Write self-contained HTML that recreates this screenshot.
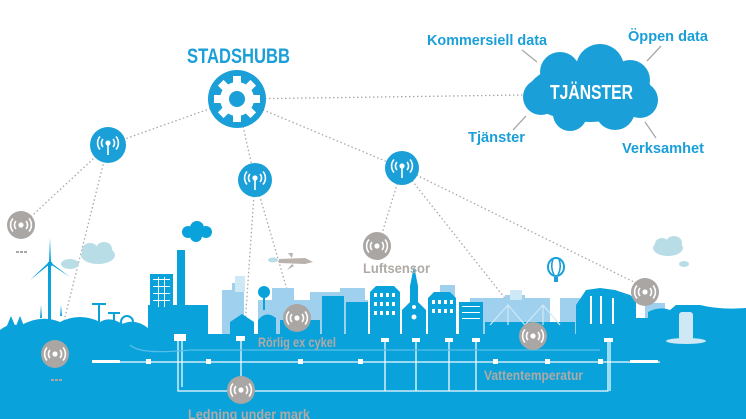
<!DOCTYPE html>
<html><head><meta charset="utf-8"><style>
html,body{margin:0;padding:0;background:#fff;}
svg{display:block;}
text{font-family:"Liberation Sans",sans-serif;font-weight:700;}
</style></head><body>
<svg width="746" height="419" viewBox="0 0 746 419" xmlns="http://www.w3.org/2000/svg">
<defs>
<g id="wave">
  <circle r="2.6" fill="#fff"/>
  <path d="M-5,-4 A6,6 0 0 0 -5,4 M5,-4 A6,6 0 0 1 5,4 M-8,-6.5 A10,10 0 0 0 -8,6.5 M8,-6.5 A10,10 0 0 1 8,6.5" stroke="#fff" stroke-width="1.6" fill="none"/>
</g>
<g id="hub">
  <use href="#wave" y="-2"/>
  <line x1="0" y1="-2" x2="0" y2="10" stroke="#fff" stroke-width="1.6"/>
</g>
</defs>

<g stroke="#a8a8a8" stroke-width="1.3" stroke-dasharray="1.5,2.5" fill="none">
  <line x1="237" y1="99" x2="523" y2="95"/>
  <line x1="237" y1="99" x2="108" y2="145"/>
  <line x1="237" y1="99" x2="255" y2="180"/>
  <line x1="237" y1="99" x2="402" y2="168"/>
  <line x1="108" y1="145" x2="22" y2="225"/>
  <line x1="108" y1="145" x2="58" y2="345"/>
  <line x1="255" y1="180" x2="244" y2="340"/>
  <line x1="255" y1="180" x2="293" y2="310"/>
  <line x1="402" y1="168" x2="380" y2="240"/>
  <line x1="402" y1="168" x2="530" y2="330"/>
  <line x1="402" y1="168" x2="640" y2="285"/>
</g>

<g fill="#b9dde6">
  <ellipse cx="98" cy="255" rx="17" ry="9"/><ellipse cx="90" cy="250" rx="8" ry="7"/><ellipse cx="104" cy="249" rx="8" ry="7"/>
  <ellipse cx="70" cy="264" rx="9" ry="5"/>
  <ellipse cx="668" cy="248" rx="15" ry="8"/><ellipse cx="662" cy="244" rx="7" ry="6"/><ellipse cx="674" cy="243" rx="8" ry="7"/>
  <ellipse cx="684" cy="264" rx="5" ry="3"/>
  <ellipse cx="273" cy="260" rx="5" ry="2.5"/>
</g>
<path d="M279,259 L305,258 L313,262 L305,264 L279,263 Z M292,258 L288,253 L293,253 Z M292,264 L287,270 L294,266 Z" fill="#b9b2ad"/>
<ellipse cx="556" cy="267" rx="8" ry="9" fill="#fff" stroke="#1a9fd8" stroke-width="2"/>
<path d="M553,259 Q550,267 554,275 M559,259 Q562,267 558,275" stroke="#1a9fd8" stroke-width="1.6" fill="none"/>
<rect x="554" y="277" width="4" height="5" fill="#1a9fd8"/>

<g fill="#9fd1ee">
  <rect x="222" y="290" width="20" height="45"/><rect x="232" y="283" width="12" height="52"/>
  <rect x="258" y="300" width="110" height="35"/><rect x="272" y="288" width="22" height="47"/>
  <rect x="310" y="292" width="30" height="43"/><rect x="340" y="288" width="25" height="47"/>
  <rect x="440" y="285" width="15" height="50"/>
  <rect x="470" y="298" width="80" height="37"/><rect x="505" y="295" width="20" height="40"/>
  <rect x="560" y="298" width="20" height="37"/><rect x="645" y="303" width="20" height="30"/>
</g>
<g fill="#cfe8f6"><rect x="235" y="276" width="10" height="16"/><rect x="510" y="290" width="12" height="10"/></g>

<g fill="#0aa2db">
  <path d="M0,330 Q10,322 20,326 Q40,314 60,322 Q80,312 100,322 Q110,316 122,324 Q135,318 148,328 L148,340 L0,340 Z"/>
  <path d="M6,328 L11,316 L16,328 Z M16,326 L20,316 L24,326 Z"/>
  <rect x="48" y="262" width="3" height="62"/>
  <path d="M49,262 L50,238 L51,262 Z M49,262 L30,280 L50,264 Z M50,262 L70,277 L50,264 Z"/>
  <circle cx="50" cy="264" r="2.5"/>
  <path d="M40,318 L41,305 L42,318 Z M60,316 L61,305 L62,316 Z"/>
  <rect x="98" y="304" width="2" height="28"/><rect x="92" y="303" width="14" height="2"/>
  <rect x="113" y="312" width="2" height="20"/><rect x="108" y="312" width="12" height="2"/>
  <circle cx="127" cy="322" r="6" fill="none" stroke="#0aa2db" stroke-width="2"/>
  <rect x="148" y="305" width="60" height="35"/>
  <rect x="150" y="274" width="23" height="40"/>
  <rect x="177" y="250" width="8" height="60"/>
  <circle cx="188" cy="232" r="6"/><circle cx="197" cy="228" r="7"/><circle cx="206" cy="232" r="6"/><circle cx="196" cy="236" r="6"/>
  <path d="M230,335 L230,322 L242,314 L254,322 L254,335 Z"/>
  <path d="M258,335 L258,320 Q266,310 276,318 L276,335 Z"/>
  <circle cx="264" cy="292" r="6"/><rect x="263" y="296" width="2" height="14"/>
  <rect x="280" y="320" width="40" height="15"/>
  <rect x="322" y="296" width="22" height="40"/>
  <rect x="346" y="302" width="22" height="34"/>
  <path d="M370,336 L370,292 L376,286 L394,286 L400,292 L400,336 Z"/>
  <path d="M402,336 L402,310 L410,302 L410,286 L414,266 L418,286 L418,302 L426,310 L426,336 Z"/>
  <path d="M428,336 L428,298 L434,292 L450,292 L456,298 L456,336 Z"/>
  <rect x="459" y="302" width="24" height="34"/>
  <rect x="485" y="322" width="90" height="14"/>
  <path d="M576,336 L576,305 L586,290 L600,288 L615,290 L630,295 L636,300 L636,336 Z"/>
  <rect x="636" y="318" width="12" height="18"/>
  <path d="M648,336 L648,312 Q660,306 670,310 L676,305 L700,305 Q720,310 746,308 L746,336 Z"/>
  <rect x="0" y="334" width="746" height="85"/>
</g>
<g fill="#fff">
  <rect x="153" y="279" width="17" height="1"/><rect x="153" y="286" width="17" height="1"/><rect x="153" y="293" width="17" height="1"/><rect x="153" y="300" width="17" height="1"/>
  <rect x="158" y="277" width="1" height="30"/><rect x="164" y="277" width="1" height="30"/>
  <rect x="374" y="293" width="3" height="4"/><rect x="380" y="293" width="3" height="4"/><rect x="386" y="293" width="3" height="4"/><rect x="392" y="293" width="3" height="4"/>
  <rect x="374" y="302" width="3" height="4"/><rect x="380" y="302" width="3" height="4"/><rect x="386" y="302" width="3" height="4"/><rect x="392" y="302" width="3" height="4"/>
  <rect x="374" y="311" width="3" height="4"/><rect x="380" y="311" width="3" height="4"/><rect x="386" y="311" width="3" height="4"/><rect x="392" y="311" width="3" height="4"/>
  <rect x="432" y="300" width="3" height="4"/><rect x="438" y="300" width="3" height="4"/><rect x="444" y="300" width="3" height="4"/><rect x="450" y="300" width="3" height="4"/>
  <rect x="432" y="309" width="3" height="4"/><rect x="438" y="309" width="3" height="4"/><rect x="444" y="309" width="3" height="4"/><rect x="450" y="309" width="3" height="4"/>
  <rect x="462" y="306" width="18" height="1"/><rect x="462" y="312" width="18" height="1"/><rect x="462" y="318" width="18" height="1"/>
  <circle cx="414" cy="317" r="2.5"/><circle cx="414" cy="307" r="2"/>
  <rect x="590" y="296" width="2" height="28"/><rect x="600" y="296" width="2" height="28"/><rect x="612" y="298" width="2" height="26"/>
  <rect x="679" y="312" width="14" height="28" rx="3" fill="#cfe8f6"/>
  <ellipse cx="686" cy="341" rx="20" ry="3" fill="#cfe8f6"/>
</g>
<g stroke="#cfe8f6" stroke-width="1.2" fill="none">
  <path d="M490,325 L508,305 L525,325 L543,305 L560,325 M508,305 L508,325 M543,305 L543,325"/>
</g>

<g stroke="#fff" stroke-width="1.3" fill="none" opacity="0.95">
  <line x1="92" y1="362" x2="620" y2="362"/>
  <path d="M178,338 L178,391 L608,391 L608,342"/>
  <path d="M182,338 L182,387"/>
  <line x1="241" y1="340" x2="241" y2="378"/>
  <line x1="385" y1="342" x2="385" y2="391"/><line x1="416" y1="342" x2="416" y2="391"/>
  <line x1="449" y1="342" x2="449" y2="391"/><line x1="476" y1="342" x2="476" y2="391"/>
  <line x1="610" y1="342" x2="610" y2="391"/>
  <path d="M130,345 Q140,355 190,350 L600,350" stroke="#5ec0e8"/>
  <line x1="620" y1="362" x2="660" y2="362"/>
</g>
<g fill="#fff">
  <rect x="174" y="334" width="12" height="7"/>
  <rect x="236" y="336" width="9" height="5"/>
  <rect x="381" y="338" width="8" height="4"/><rect x="412" y="338" width="8" height="4"/><rect x="445" y="338" width="8" height="4"/><rect x="472" y="338" width="8" height="4"/>
  <rect x="604" y="338" width="9" height="4"/>
  <rect x="146" y="359" width="5" height="5"/><rect x="206" y="359" width="5" height="5"/><rect x="298" y="359" width="5" height="5"/><rect x="358" y="359" width="5" height="5"/>
  <rect x="493" y="359" width="5" height="5"/><rect x="545" y="359" width="5" height="5"/><rect x="598" y="359" width="5" height="5"/>
  <rect x="92" y="360" width="28" height="3"/><rect x="630" y="360" width="28" height="3"/>
</g>

<g>
  <g transform="translate(21,225)"><circle r="14" fill="#a9a6a4"/><use href="#wave"/></g>
  <g transform="translate(55,354)"><circle r="14" fill="#a9a6a4"/><use href="#wave"/></g>
  <g transform="translate(297,318)"><circle r="14" fill="#a9a6a4"/><use href="#wave"/></g>
  <g transform="translate(377,246)"><circle r="14" fill="#a9a6a4"/><use href="#wave"/></g>
  <g transform="translate(533,336)"><circle r="14" fill="#a9a6a4"/><use href="#wave"/></g>
  <g transform="translate(645,292)"><circle r="14" fill="#a9a6a4"/><use href="#wave"/></g>
  <g transform="translate(241,390)"><circle r="14" fill="#a9a6a4"/><use href="#wave"/></g>
</g>
<g fill="#a9a6a4"><rect x="16" y="251" width="3" height="2"/><rect x="20" y="251" width="3" height="2"/><rect x="24" y="251" width="3" height="2"/>
<rect x="51" y="379" width="3" height="2"/><rect x="55" y="379" width="3" height="2"/><rect x="59" y="379" width="3" height="2"/></g>

<g transform="translate(108,145)"><circle r="18" fill="#1a9fd8"/><use href="#hub"/></g>
<g transform="translate(255,180)"><circle r="17" fill="#1a9fd8"/><use href="#hub"/></g>
<g transform="translate(402,168)"><circle r="17" fill="#1a9fd8"/><use href="#hub"/></g>

<g transform="translate(237,99)">
  <circle r="29" fill="#1a9fd8"/>
  <g fill="#fff">
    <circle r="17"/>
    <rect x="-4" y="-23" width="8" height="46"/>
    <rect x="-4" y="-23" width="8" height="46" transform="rotate(45)"/>
    <rect x="-4" y="-23" width="8" height="46" transform="rotate(90)"/>
    <rect x="-4" y="-23" width="8" height="46" transform="rotate(135)"/>
  </g>
  <circle r="8" fill="#1a9fd8"/>
</g>
<text x="187" y="63" font-size="21" fill="#1a9fd8" textLength="103" lengthAdjust="spacingAndGlyphs">STADSHUBB</text>

<g fill="#1a9fd8">
  <ellipse cx="590" cy="92" rx="62" ry="30"/>
  <circle cx="560" cy="72" r="20"/><circle cx="600" cy="68" r="24"/><circle cx="630" cy="80" r="20"/>
  <circle cx="541" cy="97" r="18"/><circle cx="570" cy="114" r="17"/><circle cx="615" cy="110" r="20"/><circle cx="640" cy="100" r="18"/>
</g>
<text x="550" y="99" font-size="20" fill="#fff" textLength="83" lengthAdjust="spacingAndGlyphs">TJÄNSTER</text>
<g stroke="#a8a8a8" stroke-width="1.3">
  <line x1="522" y1="50" x2="537" y2="62"/><line x1="661" y1="46" x2="647" y2="61"/>
  <line x1="526" y1="116" x2="513" y2="130"/><line x1="645" y1="122" x2="656" y2="138"/>
</g>
<g font-size="15" fill="#1a9fd8">
  <text x="427" y="45" textLength="120" lengthAdjust="spacingAndGlyphs">Kommersiell data</text>
  <text x="628" y="41" textLength="80" lengthAdjust="spacingAndGlyphs">Öppen data</text>
  <text x="468" y="142" textLength="57" lengthAdjust="spacingAndGlyphs">Tjänster</text>
  <text x="622" y="153" textLength="82" lengthAdjust="spacingAndGlyphs">Verksamhet</text>
</g>

<g font-size="14" fill="#b0aaa6">
  <text x="363" y="273" textLength="67" lengthAdjust="spacingAndGlyphs">Luftsensor</text>
  <text x="258" y="347" textLength="78" lengthAdjust="spacingAndGlyphs">Rörlig ex cykel</text>
  <text x="484" y="380" textLength="99" lengthAdjust="spacingAndGlyphs">Vattentemperatur</text>
  <text x="188" y="419" textLength="122" lengthAdjust="spacingAndGlyphs">Ledning under mark</text>
</g>
</svg>
</body></html>
